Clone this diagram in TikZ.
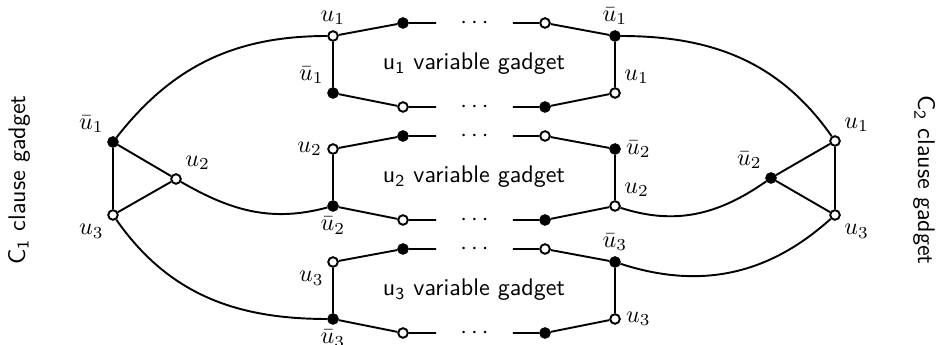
\documentclass[tikz,border=0pt]{standalone}
\usepackage{fixltx2e}
\tikzset{
  wnode/.style={circle, draw, thick, fill=white, minimum size=4pt, inner sep=0pt},
  bnode/.style={wnode, fill=black},
  gdots/.style={minimum width=31.2pt, inner sep=0pt},
  every label/.style={inner sep=1.8pt},
}
\begin{document}
\begin{tikzpicture}[x=0.416pt, y=-0.416pt, thick]
        \useasboundingbox (0,0) rectangle (936,345);

        % Variable gadgets
        \foreach \y/\i/\pa/\pb/\pc/\pd in {23/1/90/135/90/45, 136/2/180/270/0/45, 249/3/225/270/90/0} {
          \node[wnode, label=\pa:{$u_\i$}] (lt\i) at (333,\y+13) {};
          \node[bnode, label=\pb:{$\bar u_\i$}] (lb\i) at (333,\y+70) {};
          \node[bnode, label=\pc:{$\bar u_\i$}] (rt\i) at (615,\y+13) {};
          \node[wnode, label=\pd:{$u_\i$}] (rb\i) at (615,\y+70) {};
          \node[bnode] (ta\i) at (403,\y) {};
          \node[wnode] (tb\i) at (545,\y) {};
          \node[wnode] (ba\i) at (403,\y+84) {};
          \node[bnode] (bb\i) at (545,\y+84) {};
          \node[gdots] (td\i) at (474.5,\y) {$\cdots$};
          \node[gdots] (bd\i) at (474.5,\y+84) {$\cdots$};
          \node[font=\sffamily] (name\i) at (474,\y+41) {u\textsubscript{\i} variable gadget};
          \draw (lt\i) -- (ta\i) -- (td\i) -- (tb\i) -- (rt\i) -- (rb\i) -- (bb\i) -- (bd\i) -- (ba\i) -- (lb\i) -- (lt\i);
        }

        % C1 clause gadget
        \node[bnode, label=135:{$\bar u_1$}] (c1a) at (113,142) {};
        \node[wnode, label=45:{$u_2$}] (c1b) at (176,179) {};
        \node[wnode, label=225:{$u_3$}] (c1c) at (113,215) {};
        \draw (c1a) -- (c1b) -- (c1c) -- (c1a);
        \node[rotate=90, font=\sffamily] (c1name) at (19,180) {C\textsubscript{1} clause gadget};

        % C2 clause gadget
        \node[wnode, label=45:{$u_1$}] (c2a) at (835,141) {};
        \node[bnode, label=135:{$\bar u_2$}] (c2b) at (771,178) {};
        \node[wnode, label=-45:{$u_3$}] (c2c) at (835,215) {};
        \draw (c2a) -- (c2b) -- (c2c) -- (c2a);
        \node[rotate=-90, font=\sffamily] (c2name) at (924,180) {C\textsubscript{2} clause gadget};

        % Literal connections
        \draw (c1a) to[out=52, in=180] (lt1);
        \draw (c1b) to[out=-30, in=195] (lb2);
        \draw (c1c) to[out=-55, in=180] (lb3);
        \draw (rt1) to[out=0, in=125] (c2a);
        \draw (rb2) to[out=-18, in=215] (c2b);
        \draw (rt3) to[out=-18, in=222] (c2c);
      \end{tikzpicture}
\end{document}
